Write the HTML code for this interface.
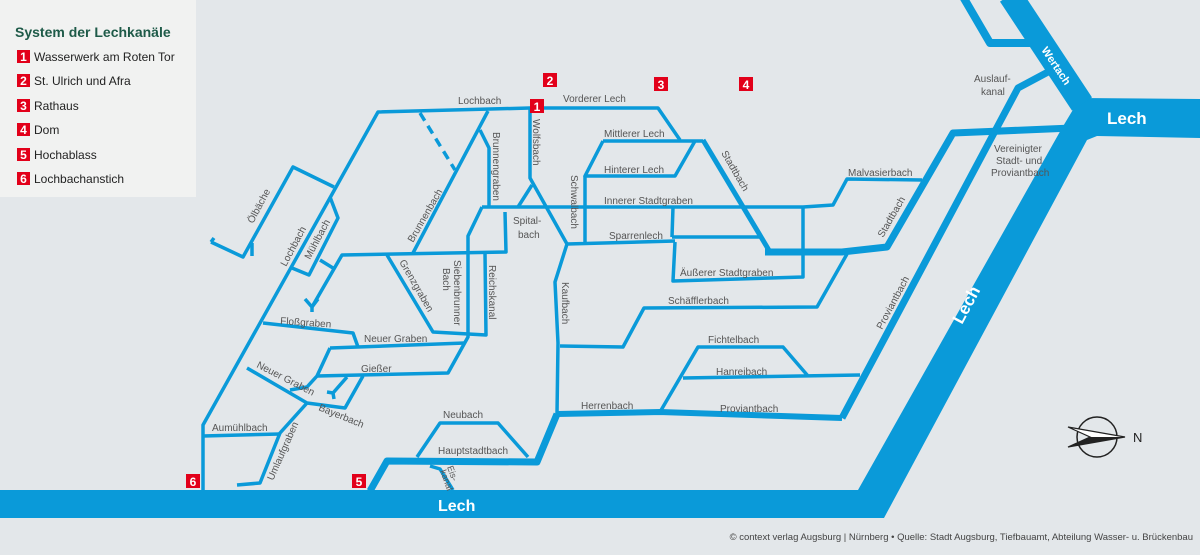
<!DOCTYPE html>
<html><head><meta charset="utf-8"><style>
html,body{margin:0;padding:0}
body{width:1200px;height:555px;overflow:hidden;background:#e3e7ea}
svg{display:block}
text{font-family:"Liberation Sans",sans-serif}
</style></head><body>
<svg width="1200" height="555" viewBox="0 0 1200 555" xmlns="http://www.w3.org/2000/svg">
<rect width="1200" height="555" fill="#e3e7ea"/>
<rect width="196" height="197" fill="#f1f2f1"/>
<polygon points="0,490 858,490 1062,128 1080,98 1200,99 1200,138 1097,136 1087,140 884,518 0,518" fill="#0a9ad9"/>
<g fill="none" stroke="#0a9ad9" stroke-linejoin="round" stroke-linecap="butt">
<!-- Wertach -->
<path d="M1010 -5 L1082 104" stroke-width="24"/>
<path d="M962 -5 L990 43 H1030" stroke-width="8"/>
<!-- Auslauf/Proviant line -->
<path d="M1048 72 L1018 88 L842 418" stroke-width="7"/>
<path d="M1072 128 L953 133 L887 247 L842 252 L765 252" stroke-width="7"/>
<path d="M842 418 L660 412 L557 414" stroke-width="6"/>
<path d="M557 414 L537 462 L387 461 L370 491" stroke-width="7"/>
<g stroke-width="3.5">
<path d="M203 490 V425 L378 112 L530 108 H658 L680 140"/>
<path d="M488 111 L413 253"/>
<path d="M480 130 L489 148 V207"/>
<path d="M530 108 V178 L567 244 L555 282 L558 343 L557 414"/>
<path d="M532 185 L518 207"/>
<path d="M482 207 H803 L833 205 L847 179 L922 180"/>
<path d="M482 207 L468 236 V337 L448 373 L317 376"/>
<path d="M505 212 L506 252 L342 255 L312 307"/>
<path d="M305 299 L312 307 L318 299 M312 307 V312"/>
<path d="M485 253 L486 335 L433 332 L387 255"/>
<path d="M330 348 L465 343"/>
<path d="M330 348 L317 376 L307 387 L290 390"/>
<path d="M263 323 L353 333 L358 347"/>
<path d="M247 368 L307 403 L345 408 L363 376"/>
<path d="M347 377 L333 393 M327 392 L333 393 L334 399"/>
<path d="M307 403 L280 433 L260 483 L237 485"/>
<path d="M203 436 L280 434"/>
<path d="M330 197 L338 218 L309 275 L292 268"/>
<path d="M320 260 L333 268"/>
<path d="M334 187 L293 167 L243 257 L211 242"/>
<path d="M252 243 V256 M211 242 L214 238"/>
<path d="M417 457 L440 423 H498 L528 457"/>
<path d="M430 466 L440 469 L453 490"/>
<path d="M603 141 H703 M603 141 L585 176 H675 L695 141"/>
<path d="M585 176 V242 M567 244 L675 241"/>
<path d="M672 237 H760 M673 207 L672 237"/>
<path d="M675 242 L673 281 L803 277 V206"/>
<path d="M560 346 L623 347 L644 308 L817 307 L847 254"/>
<path d="M660 412 L698 347 H783 L808 376 M683 378 L860 375"/>
</g>
<path d="M703 140 L770 252" stroke-width="5"/>
<path d="M420 113 L455 170" stroke-width="3.5" stroke-dasharray="9,6"/>
</g>
<!-- Labels -->
<g fill="#555" font-size="10">
<text x="458" y="104">Lochbach</text>
<text x="563" y="102">Vorderer Lech</text>
<text x="604" y="137">Mittlerer Lech</text>
<text x="604" y="173">Hinterer Lech</text>
<text x="604" y="204">Innerer Stadtgraben</text>
<text x="609" y="239">Sparrenlech</text>
<text x="680" y="276">Äußerer Stadtgraben</text>
<text x="668" y="304">Schäfflerbach</text>
<text x="708" y="343">Fichtelbach</text>
<text x="716" y="375">Hanreibach</text>
<text x="720" y="412">Proviantbach</text>
<text x="581" y="409">Herrenbach</text>
<text x="848" y="176">Malvasierbach</text>
<text x="443" y="418">Neubach</text>
<text x="438" y="454">Hauptstadtbach</text>
<text x="212" y="431">Aumühlbach</text>
<text x="361" y="372">Gießer</text>
<text x="364" y="342">Neuer Graben</text>
<text x="280" y="324" transform="rotate(4 280 324)">Floßgraben</text>
<text x="256" y="367" transform="rotate(27 256 367)">Neuer Graben</text>
<text x="318" y="410" transform="rotate(22 318 410)">Bayerbach</text>
<text x="513" y="224">Spital-</text>
<text x="518" y="238">bach</text>
<text x="974" y="82">Auslauf-</text>
<text x="981" y="95">kanal</text>
<text x="994" y="152">Vereinigter</text>
<text x="996" y="164">Stadt- und</text>
<text x="991" y="176">Proviantbach</text>
<text transform="translate(533 119) rotate(90)">Wolfsbach</text>
<text transform="translate(493 132) rotate(90)">Brunnengraben</text>
<text transform="translate(571 175) rotate(90)">Schwalbach</text>
<text transform="translate(562 282) rotate(90)">Kaufbach</text>
<text transform="translate(489 265) rotate(90)">Reichskanal</text>
<text transform="translate(454 260) rotate(90)">Siebenbrunner</text>
<text transform="translate(443 268) rotate(90)">Bach</text>
<text transform="translate(399 262) rotate(60)">Grenzgraben</text>
<text transform="translate(721 153) rotate(60)">Stadtbach</text>
<text transform="translate(413 243) rotate(-60)">Brunnenbach</text>
<text transform="translate(253 224) rotate(-62)">Ölbäche</text>
<text transform="translate(286 267) rotate(-62)">Lochbach</text>
<text transform="translate(310 260) rotate(-62)">Mühlbach</text>
<text transform="translate(273 481) rotate(-66)">Umlaufgraben</text>
<text transform="translate(883 238) rotate(-60)">Stadtbach</text>
<text transform="translate(882 330) rotate(-62)">Proviantbach</text>
<text transform="translate(447 467) rotate(70)" font-size="9">Eis-</text>
<text transform="translate(440 471) rotate(70)" font-size="9">kanal</text>
</g>
<g fill="#fff" font-weight="bold">
<text x="438" y="511" font-size="16">Lech</text>
<text x="1107" y="124" font-size="17">Lech</text>
<text transform="translate(962 325) rotate(-62)" font-size="17">Lech</text>
<text transform="translate(1041 50) rotate(56)" font-size="11">Wertach</text>
</g>
<!-- markers -->
<g font-weight="bold" font-size="12" fill="#fff" text-anchor="middle">
<rect x="530" y="99" width="14" height="14" fill="#e2001a"/><text x="537" y="111">1</text>
<rect x="543" y="73" width="14" height="14" fill="#e2001a"/><text x="550" y="85">2</text>
<rect x="654" y="77" width="14" height="14" fill="#e2001a"/><text x="661" y="89">3</text>
<rect x="739" y="77" width="14" height="14" fill="#e2001a"/><text x="746" y="89">4</text>
<rect x="352" y="474" width="14" height="14" fill="#e2001a"/><text x="359" y="486">5</text>
<rect x="186" y="474" width="14" height="14" fill="#e2001a"/><text x="193" y="486">6</text>
</g>
<!-- compass -->
<circle cx="1097" cy="437" r="20" fill="none" stroke="#222" stroke-width="1.5"/>
<path d="M1068 427 L1125 437 L1068 447 L1090 437 Z" fill="#fff" stroke="#222" stroke-width="1.2"/>
<path d="M1090 437 L1125 437 L1068 447 Z" fill="#222"/>
<text x="1133" y="442" font-size="13" fill="#222">N</text>
<!-- legend -->
<text x="15" y="37" font-size="14" font-weight="bold" fill="#1e5a48">System der Lechkanäle</text>
<g font-size="12" fill="#222">
<g fill="#e2001a"><rect x="17" y="50" width="13" height="13"/><rect x="17" y="74" width="13" height="13"/><rect x="17" y="99" width="13" height="13"/><rect x="17" y="123" width="13" height="13"/><rect x="17" y="148" width="13" height="13"/><rect x="17" y="172" width="13" height="13"/></g>
<g fill="#fff" font-weight="bold" text-anchor="middle"><text x="23.5" y="61">1</text><text x="23.5" y="85">2</text><text x="23.5" y="110">3</text><text x="23.5" y="134">4</text><text x="23.5" y="159">5</text><text x="23.5" y="183">6</text></g>
<text x="34" y="61">Wasserwerk am Roten Tor</text>
<text x="34" y="85">St. Ulrich und Afra</text>
<text x="34" y="110">Rathaus</text>
<text x="34" y="134">Dom</text>
<text x="34" y="159">Hochablass</text>
<text x="34" y="183">Lochbachanstich</text>
</g>
<text x="1193" y="540" font-size="9.5" fill="#444" text-anchor="end">© context verlag Augsburg | Nürnberg • Quelle: Stadt Augsburg, Tiefbauamt, Abteilung Wasser- u. Brückenbau</text>
</svg>
</body></html>
